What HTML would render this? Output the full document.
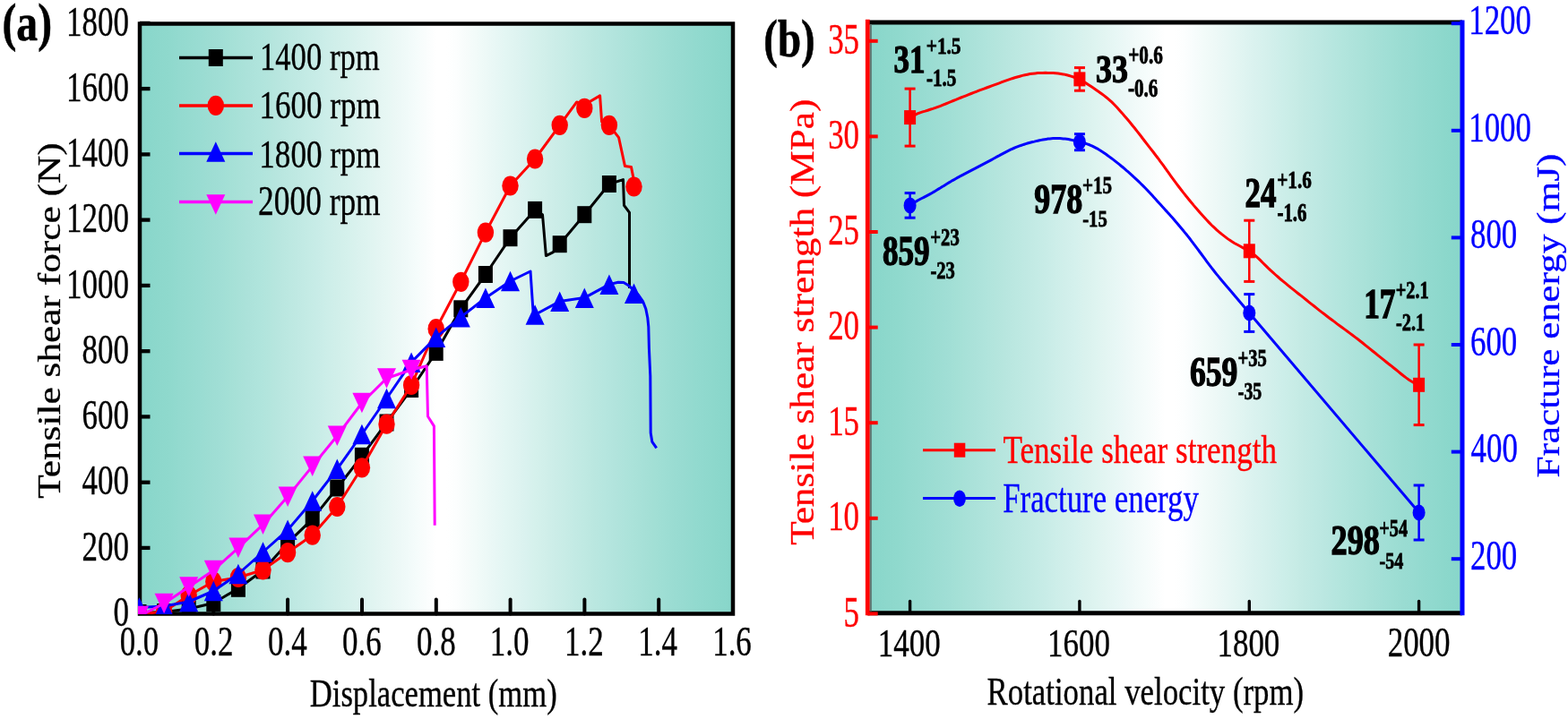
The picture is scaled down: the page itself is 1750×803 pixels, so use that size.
<!DOCTYPE html>
<html><head><meta charset="utf-8"><style>html,body{margin:0;padding:0;background:#fff;overflow:hidden}svg{display:block}</style></head><body>
<svg width="1750" height="803" viewBox="0 0 1750 803" font-family='"Liberation Serif", "Times New Roman", serif'>
<defs>
<linearGradient id="ga" gradientUnits="userSpaceOnUse" x1="156" x2="818" y1="0" y2="0"><stop offset="0.0000" stop-color="rgb(136, 214, 202)"/><stop offset="0.0167" stop-color="rgb(138, 215, 203)"/><stop offset="0.0333" stop-color="rgb(141, 216, 204)"/><stop offset="0.0500" stop-color="rgb(143, 217, 205)"/><stop offset="0.0667" stop-color="rgb(147, 218, 207)"/><stop offset="0.0833" stop-color="rgb(150, 219, 208)"/><stop offset="0.1000" stop-color="rgb(153, 220, 210)"/><stop offset="0.1167" stop-color="rgb(157, 221, 211)"/><stop offset="0.1333" stop-color="rgb(160, 222, 213)"/><stop offset="0.1500" stop-color="rgb(164, 224, 214)"/><stop offset="0.1667" stop-color="rgb(168, 225, 216)"/><stop offset="0.1833" stop-color="rgb(172, 226, 218)"/><stop offset="0.2000" stop-color="rgb(175, 228, 220)"/><stop offset="0.2167" stop-color="rgb(179, 229, 221)"/><stop offset="0.2333" stop-color="rgb(184, 230, 223)"/><stop offset="0.2500" stop-color="rgb(188, 232, 225)"/><stop offset="0.2667" stop-color="rgb(192, 233, 227)"/><stop offset="0.2833" stop-color="rgb(196, 235, 229)"/><stop offset="0.3000" stop-color="rgb(200, 236, 231)"/><stop offset="0.3167" stop-color="rgb(205, 238, 233)"/><stop offset="0.3333" stop-color="rgb(209, 239, 234)"/><stop offset="0.3500" stop-color="rgb(213, 241, 236)"/><stop offset="0.3667" stop-color="rgb(218, 242, 238)"/><stop offset="0.3833" stop-color="rgb(222, 244, 240)"/><stop offset="0.4000" stop-color="rgb(227, 245, 242)"/><stop offset="0.4167" stop-color="rgb(231, 247, 244)"/><stop offset="0.4333" stop-color="rgb(236, 248, 246)"/><stop offset="0.4500" stop-color="rgb(240, 250, 249)"/><stop offset="0.4667" stop-color="rgb(245, 252, 251)"/><stop offset="0.4833" stop-color="rgb(250, 253, 253)"/><stop offset="0.5000" stop-color="rgb(255, 255, 255)"/><stop offset="0.5167" stop-color="rgb(255, 255, 255)"/><stop offset="0.5333" stop-color="rgb(252, 254, 254)"/><stop offset="0.5500" stop-color="rgb(247, 252, 251)"/><stop offset="0.5667" stop-color="rgb(242, 251, 249)"/><stop offset="0.5833" stop-color="rgb(237, 249, 247)"/><stop offset="0.6000" stop-color="rgb(232, 247, 245)"/><stop offset="0.6167" stop-color="rgb(227, 246, 243)"/><stop offset="0.6333" stop-color="rgb(223, 244, 241)"/><stop offset="0.6500" stop-color="rgb(218, 242, 239)"/><stop offset="0.6667" stop-color="rgb(213, 241, 236)"/><stop offset="0.6833" stop-color="rgb(209, 239, 234)"/><stop offset="0.7000" stop-color="rgb(204, 237, 232)"/><stop offset="0.7167" stop-color="rgb(200, 236, 230)"/><stop offset="0.7333" stop-color="rgb(195, 234, 228)"/><stop offset="0.7500" stop-color="rgb(191, 233, 226)"/><stop offset="0.7667" stop-color="rgb(186, 231, 224)"/><stop offset="0.7833" stop-color="rgb(182, 230, 223)"/><stop offset="0.8000" stop-color="rgb(178, 228, 221)"/><stop offset="0.8167" stop-color="rgb(174, 227, 219)"/><stop offset="0.8333" stop-color="rgb(170, 226, 217)"/><stop offset="0.8500" stop-color="rgb(166, 224, 215)"/><stop offset="0.8667" stop-color="rgb(162, 223, 213)"/><stop offset="0.8833" stop-color="rgb(158, 222, 212)"/><stop offset="0.9000" stop-color="rgb(154, 220, 210)"/><stop offset="0.9167" stop-color="rgb(151, 219, 209)"/><stop offset="0.9333" stop-color="rgb(147, 218, 207)"/><stop offset="0.9500" stop-color="rgb(144, 217, 206)"/><stop offset="0.9667" stop-color="rgb(141, 216, 204)"/><stop offset="0.9833" stop-color="rgb(138, 215, 203)"/><stop offset="1.0000" stop-color="rgb(136, 214, 202)"/></linearGradient>
<clipPath id="clipa"><rect x="154" y="24" width="666.5" height="662"/></clipPath>
<linearGradient id="gb" gradientUnits="userSpaceOnUse" x1="968.3" x2="1632" y1="0" y2="0"><stop offset="0.0000" stop-color="rgb(136, 214, 202)"/><stop offset="0.0167" stop-color="rgb(138, 215, 203)"/><stop offset="0.0333" stop-color="rgb(141, 216, 204)"/><stop offset="0.0500" stop-color="rgb(143, 217, 205)"/><stop offset="0.0667" stop-color="rgb(147, 218, 207)"/><stop offset="0.0833" stop-color="rgb(150, 219, 208)"/><stop offset="0.1000" stop-color="rgb(153, 220, 210)"/><stop offset="0.1167" stop-color="rgb(157, 221, 211)"/><stop offset="0.1333" stop-color="rgb(160, 222, 213)"/><stop offset="0.1500" stop-color="rgb(164, 224, 214)"/><stop offset="0.1667" stop-color="rgb(168, 225, 216)"/><stop offset="0.1833" stop-color="rgb(172, 226, 218)"/><stop offset="0.2000" stop-color="rgb(176, 228, 220)"/><stop offset="0.2167" stop-color="rgb(180, 229, 221)"/><stop offset="0.2333" stop-color="rgb(184, 230, 223)"/><stop offset="0.2500" stop-color="rgb(188, 232, 225)"/><stop offset="0.2667" stop-color="rgb(192, 233, 227)"/><stop offset="0.2833" stop-color="rgb(196, 235, 229)"/><stop offset="0.3000" stop-color="rgb(200, 236, 231)"/><stop offset="0.3167" stop-color="rgb(205, 238, 233)"/><stop offset="0.3333" stop-color="rgb(209, 239, 235)"/><stop offset="0.3500" stop-color="rgb(213, 241, 237)"/><stop offset="0.3667" stop-color="rgb(218, 242, 238)"/><stop offset="0.3833" stop-color="rgb(222, 244, 240)"/><stop offset="0.4000" stop-color="rgb(227, 245, 242)"/><stop offset="0.4167" stop-color="rgb(231, 247, 245)"/><stop offset="0.4333" stop-color="rgb(236, 248, 247)"/><stop offset="0.4500" stop-color="rgb(241, 250, 249)"/><stop offset="0.4667" stop-color="rgb(245, 252, 251)"/><stop offset="0.4833" stop-color="rgb(250, 253, 253)"/><stop offset="0.5000" stop-color="rgb(255, 255, 255)"/><stop offset="0.5167" stop-color="rgb(255, 255, 255)"/><stop offset="0.5333" stop-color="rgb(252, 254, 254)"/><stop offset="0.5500" stop-color="rgb(247, 252, 252)"/><stop offset="0.5667" stop-color="rgb(242, 251, 249)"/><stop offset="0.5833" stop-color="rgb(238, 249, 247)"/><stop offset="0.6000" stop-color="rgb(233, 247, 245)"/><stop offset="0.6167" stop-color="rgb(228, 246, 243)"/><stop offset="0.6333" stop-color="rgb(223, 244, 241)"/><stop offset="0.6500" stop-color="rgb(218, 242, 239)"/><stop offset="0.6667" stop-color="rgb(214, 241, 237)"/><stop offset="0.6833" stop-color="rgb(209, 239, 235)"/><stop offset="0.7000" stop-color="rgb(204, 238, 233)"/><stop offset="0.7167" stop-color="rgb(200, 236, 230)"/><stop offset="0.7333" stop-color="rgb(195, 234, 228)"/><stop offset="0.7500" stop-color="rgb(191, 233, 227)"/><stop offset="0.7667" stop-color="rgb(187, 231, 225)"/><stop offset="0.7833" stop-color="rgb(182, 230, 223)"/><stop offset="0.8000" stop-color="rgb(178, 229, 221)"/><stop offset="0.8167" stop-color="rgb(174, 227, 219)"/><stop offset="0.8333" stop-color="rgb(170, 226, 217)"/><stop offset="0.8500" stop-color="rgb(166, 224, 215)"/><stop offset="0.8667" stop-color="rgb(162, 223, 214)"/><stop offset="0.8833" stop-color="rgb(158, 222, 212)"/><stop offset="0.9000" stop-color="rgb(154, 220, 210)"/><stop offset="0.9167" stop-color="rgb(151, 219, 209)"/><stop offset="0.9333" stop-color="rgb(147, 218, 207)"/><stop offset="0.9500" stop-color="rgb(144, 217, 206)"/><stop offset="0.9667" stop-color="rgb(141, 216, 204)"/><stop offset="0.9833" stop-color="rgb(138, 215, 203)"/><stop offset="1.0000" stop-color="rgb(136, 214, 202)"/></linearGradient>
</defs>
<rect x="0" y="0" width="1750" height="803" fill="#fff"/>
<rect x="156" y="26.5" width="662" height="659.0" fill="url(#ga)"/>
<rect x="968.3" y="24.9" width="663.7" height="659.9" fill="url(#gb)"/>
<rect x="156" y="26.5" width="662" height="659" fill="none" stroke="#000" stroke-width="4.5"/>
<line x1="156" y1="611.9" x2="167.5" y2="611.9" stroke="#000" stroke-width="4.3"/>
<line x1="156" y1="538.7" x2="167.5" y2="538.7" stroke="#000" stroke-width="4.3"/>
<line x1="156" y1="465.4" x2="167.5" y2="465.4" stroke="#000" stroke-width="4.3"/>
<line x1="156" y1="392.2" x2="167.5" y2="392.2" stroke="#000" stroke-width="4.3"/>
<line x1="156" y1="318.9" x2="167.5" y2="318.9" stroke="#000" stroke-width="4.3"/>
<line x1="156" y1="245.6" x2="167.5" y2="245.6" stroke="#000" stroke-width="4.3"/>
<line x1="156" y1="172.4" x2="167.5" y2="172.4" stroke="#000" stroke-width="4.3"/>
<line x1="156" y1="99.1" x2="167.5" y2="99.1" stroke="#000" stroke-width="4.3"/>
<line x1="156" y1="25.9" x2="167.5" y2="25.9" stroke="#000" stroke-width="4.3"/>
<line x1="238.3" y1="685.5" x2="238.3" y2="669.5" stroke="#000" stroke-width="4" stroke-linecap="round"/>
<line x1="321.1" y1="685.5" x2="321.1" y2="669.5" stroke="#000" stroke-width="4" stroke-linecap="round"/>
<line x1="404.0" y1="685.5" x2="404.0" y2="669.5" stroke="#000" stroke-width="4" stroke-linecap="round"/>
<line x1="486.8" y1="685.5" x2="486.8" y2="669.5" stroke="#000" stroke-width="4" stroke-linecap="round"/>
<line x1="569.6" y1="685.5" x2="569.6" y2="669.5" stroke="#000" stroke-width="4" stroke-linecap="round"/>
<line x1="652.4" y1="685.5" x2="652.4" y2="669.5" stroke="#000" stroke-width="4" stroke-linecap="round"/>
<line x1="735.2" y1="685.5" x2="735.2" y2="669.5" stroke="#000" stroke-width="4" stroke-linecap="round"/>
<g clip-path="url(#clipa)">
<path d="M155.5,684.5 L183.1,683.5 L210.7,680.0 L238.3,673.5 L265.9,657.3 L293.5,637.0 L321.1,606.4 L348.7,579.6 L376.3,545.0 L403.9,509.3 L431.5,472.0 L459.1,434.5 L486.7,393.4 L514.3,344.8 L541.9,306.5 L569.5,265.7 L597.1,234.4 L605.5,239.8 L609.4,285.6 L617.4,281.6 L624.7,272.7 L652.3,239.7 L679.9,205.5 L695.5,200.6 L696.5,229.4 L702.5,237.4 L702.5,322.0" fill="none" stroke="#000" stroke-width="3" stroke-linejoin="round"/>
<rect x="147.5" y="675.0" width="16" height="19" fill="#000"/>
<rect x="175.1" y="674.0" width="16" height="19" fill="#000"/>
<rect x="202.7" y="670.5" width="16" height="19" fill="#000"/>
<rect x="230.3" y="664.0" width="16" height="19" fill="#000"/>
<rect x="257.9" y="647.8" width="16" height="19" fill="#000"/>
<rect x="285.5" y="627.5" width="16" height="19" fill="#000"/>
<rect x="313.1" y="596.9" width="16" height="19" fill="#000"/>
<rect x="340.7" y="570.1" width="16" height="19" fill="#000"/>
<rect x="368.3" y="535.5" width="16" height="19" fill="#000"/>
<rect x="395.9" y="499.8" width="16" height="19" fill="#000"/>
<rect x="423.5" y="462.5" width="16" height="19" fill="#000"/>
<rect x="451.1" y="425.0" width="16" height="19" fill="#000"/>
<rect x="478.7" y="383.9" width="16" height="19" fill="#000"/>
<rect x="506.3" y="335.3" width="16" height="19" fill="#000"/>
<rect x="533.9" y="297.0" width="16" height="19" fill="#000"/>
<rect x="561.5" y="256.2" width="16" height="19" fill="#000"/>
<rect x="589.1" y="224.9" width="16" height="19" fill="#000"/>
<rect x="616.7" y="263.2" width="16" height="19" fill="#000"/>
<rect x="644.3" y="230.2" width="16" height="19" fill="#000"/>
<rect x="671.9" y="196.0" width="16" height="19" fill="#000"/>
<path d="M155.5,686.0 L183.1,683.0 L210.7,665.0 L238.3,649.5 L265.9,645.0 L293.5,636.5 L321.1,617.1 L348.7,597.7 L376.3,566.0 L403.9,522.3 L431.5,473.7 L459.1,430.0 L486.7,367.2 L514.3,314.8 L541.9,259.7 L569.5,207.5 L597.1,177.5 L624.7,139.8 L643.7,113.9 L652.3,117.0 L669.6,106.9 L671.6,135.8 L679.9,139.8 L690.6,153.7 L697.5,185.6 L704.5,186.6 L707.5,201.6 L707.5,208.5" fill="none" stroke="#ff0000" stroke-width="3" stroke-linejoin="round"/>
<ellipse cx="155.5" cy="686.0" rx="9.2" ry="11.1" fill="#ff0000"/>
<ellipse cx="183.1" cy="683.0" rx="9.2" ry="11.1" fill="#ff0000"/>
<ellipse cx="210.7" cy="665.0" rx="9.2" ry="11.1" fill="#ff0000"/>
<ellipse cx="238.3" cy="649.5" rx="9.2" ry="11.1" fill="#ff0000"/>
<ellipse cx="265.9" cy="645.0" rx="9.2" ry="11.1" fill="#ff0000"/>
<ellipse cx="293.5" cy="636.5" rx="9.2" ry="11.1" fill="#ff0000"/>
<ellipse cx="321.1" cy="617.1" rx="9.2" ry="11.1" fill="#ff0000"/>
<ellipse cx="348.7" cy="597.7" rx="9.2" ry="11.1" fill="#ff0000"/>
<ellipse cx="376.3" cy="566.0" rx="9.2" ry="11.1" fill="#ff0000"/>
<ellipse cx="403.9" cy="522.3" rx="9.2" ry="11.1" fill="#ff0000"/>
<ellipse cx="431.5" cy="473.7" rx="9.2" ry="11.1" fill="#ff0000"/>
<ellipse cx="459.1" cy="430.0" rx="9.2" ry="11.1" fill="#ff0000"/>
<ellipse cx="486.7" cy="367.2" rx="9.2" ry="11.1" fill="#ff0000"/>
<ellipse cx="514.3" cy="314.8" rx="9.2" ry="11.1" fill="#ff0000"/>
<ellipse cx="541.9" cy="259.7" rx="9.2" ry="11.1" fill="#ff0000"/>
<ellipse cx="569.5" cy="207.5" rx="9.2" ry="11.1" fill="#ff0000"/>
<ellipse cx="597.1" cy="177.5" rx="9.2" ry="11.1" fill="#ff0000"/>
<ellipse cx="624.7" cy="139.8" rx="9.2" ry="11.1" fill="#ff0000"/>
<ellipse cx="652.3" cy="120.9" rx="9.2" ry="11.1" fill="#ff0000"/>
<ellipse cx="679.9" cy="139.8" rx="9.2" ry="11.1" fill="#ff0000"/>
<ellipse cx="707.5" cy="208.5" rx="9.2" ry="11.1" fill="#ff0000"/>
<path d="M155.5,678.5 L183.1,677.0 L210.7,672.0 L238.3,660.0 L265.9,641.0 L293.5,616.5 L321.1,591.9 L348.7,559.5 L376.3,523.9 L403.9,485.0 L431.5,445.0 L459.1,404.6 L486.7,376.6 L514.3,354.2 L541.9,332.7 L569.5,314.0 L592.0,303.0 L595.0,347.5 L597.1,351.5 L624.7,336.6 L652.3,332.6 L679.9,317.6 L690.0,315.2 L696.0,315.5 L701.0,318.5 L707.5,324.0 L713.0,330.0 L717.5,336.5 L720.8,345.0 L722.8,355.0 L723.8,365.0 L724.4,389.0 L725.8,420.0 L726.2,483.4 L727.8,493.3 L732.7,500.3" fill="none" stroke="#0000ff" stroke-width="3" stroke-linejoin="round"/>
<path d="M145.0,689.8 L166.0,689.8 L155.5,667.2Z" fill="#0000ff"/>
<path d="M172.6,688.2 L193.6,688.2 L183.1,665.8Z" fill="#0000ff"/>
<path d="M200.2,683.2 L221.2,683.2 L210.7,660.8Z" fill="#0000ff"/>
<path d="M227.8,671.2 L248.8,671.2 L238.3,648.8Z" fill="#0000ff"/>
<path d="M255.4,652.2 L276.4,652.2 L265.9,629.8Z" fill="#0000ff"/>
<path d="M283.0,627.8 L304.0,627.8 L293.5,605.2Z" fill="#0000ff"/>
<path d="M310.6,603.1 L331.6,603.1 L321.1,580.6Z" fill="#0000ff"/>
<path d="M338.2,570.8 L359.2,570.8 L348.7,548.2Z" fill="#0000ff"/>
<path d="M365.8,535.1 L386.8,535.1 L376.3,512.6Z" fill="#0000ff"/>
<path d="M393.4,496.2 L414.4,496.2 L403.9,473.8Z" fill="#0000ff"/>
<path d="M421.0,456.2 L442.0,456.2 L431.5,433.8Z" fill="#0000ff"/>
<path d="M448.6,415.9 L469.6,415.9 L459.1,393.4Z" fill="#0000ff"/>
<path d="M476.2,387.9 L497.2,387.9 L486.7,365.4Z" fill="#0000ff"/>
<path d="M503.8,365.4 L524.8,365.4 L514.3,342.9Z" fill="#0000ff"/>
<path d="M531.4,343.9 L552.4,343.9 L541.9,321.4Z" fill="#0000ff"/>
<path d="M559.0,325.2 L580.0,325.2 L569.5,302.8Z" fill="#0000ff"/>
<path d="M586.6,362.8 L607.6,362.8 L597.1,340.2Z" fill="#0000ff"/>
<path d="M614.2,347.9 L635.2,347.9 L624.7,325.4Z" fill="#0000ff"/>
<path d="M641.8,343.9 L662.8,343.9 L652.3,321.4Z" fill="#0000ff"/>
<path d="M669.4,328.9 L690.4,328.9 L679.9,306.4Z" fill="#0000ff"/>
<path d="M697.0,338.9 L718.0,338.9 L707.5,316.4Z" fill="#0000ff"/>
<path d="M155.5,688.0 L183.1,674.0 L210.7,655.5 L238.3,637.0 L265.9,611.8 L293.5,585.9 L321.1,554.6 L348.7,520.6 L376.3,486.7 L403.9,450.0 L431.5,422.5 L459.1,413.0 L476.2,408.8 L477.5,465.0 L484.4,475.9 L485.2,586.8" fill="none" stroke="#ff00ff" stroke-width="3" stroke-linejoin="round"/>
<path d="M145.0,676.8 L166.0,676.8 L155.5,699.2Z" fill="#ff00ff"/>
<path d="M172.6,662.8 L193.6,662.8 L183.1,685.2Z" fill="#ff00ff"/>
<path d="M200.2,644.2 L221.2,644.2 L210.7,666.8Z" fill="#ff00ff"/>
<path d="M227.8,625.8 L248.8,625.8 L238.3,648.2Z" fill="#ff00ff"/>
<path d="M255.4,600.5 L276.4,600.5 L265.9,623.0Z" fill="#ff00ff"/>
<path d="M283.0,574.6 L304.0,574.6 L293.5,597.1Z" fill="#ff00ff"/>
<path d="M310.6,543.4 L331.6,543.4 L321.1,565.9Z" fill="#ff00ff"/>
<path d="M338.2,509.4 L359.2,509.4 L348.7,531.9Z" fill="#ff00ff"/>
<path d="M365.8,475.4 L386.8,475.4 L376.3,497.9Z" fill="#ff00ff"/>
<path d="M393.4,438.8 L414.4,438.8 L403.9,461.2Z" fill="#ff00ff"/>
<path d="M421.0,411.2 L442.0,411.2 L431.5,433.8Z" fill="#ff00ff"/>
<path d="M448.6,401.8 L469.6,401.8 L459.1,424.2Z" fill="#ff00ff"/>
</g>
<line x1="200" y1="64.5" x2="282" y2="64.5" stroke="#000" stroke-width="3.5"/>
<rect x="232.8" y="55.0" width="16" height="19" fill="#000"/>
<line x1="200" y1="117.9" x2="282" y2="117.9" stroke="#ff0000" stroke-width="3.5"/>
<ellipse cx="240.8" cy="117.9" rx="9.2" ry="11.1" fill="#ff0000"/>
<line x1="200" y1="171.5" x2="282" y2="171.5" stroke="#0000ff" stroke-width="3.5"/>
<path d="M230.3,180.8 L251.3,180.8 L240.8,158.2Z" fill="#0000ff"/>
<line x1="200" y1="225.5" x2="282" y2="225.5" stroke="#ff00ff" stroke-width="3.5"/>
<path d="M230.3,217.2 L251.3,217.2 L240.8,239.8Z" fill="#ff00ff"/>
<path d="M1015.4,131.6 L1018.3,129.9 L1021.1,128.3 L1024.0,126.9 L1026.8,125.8 L1029.7,124.9 L1032.5,124.1 L1035.4,123.2 L1038.2,122.3 L1041.1,121.4 L1044.0,120.4 L1046.8,119.3 L1049.7,118.3 L1052.5,117.1 L1055.4,116.0 L1058.2,114.8 L1061.1,113.7 L1063.9,112.5 L1066.8,111.4 L1069.7,110.2 L1072.5,109.0 L1075.4,107.9 L1078.2,106.8 L1081.1,105.6 L1083.9,104.5 L1086.8,103.4 L1089.6,102.3 L1092.5,101.2 L1095.3,100.2 L1098.2,99.1 L1101.1,98.0 L1103.9,97.0 L1106.8,95.9 L1109.6,94.9 L1112.5,93.8 L1115.3,92.8 L1118.2,91.7 L1121.0,90.7 L1123.9,89.7 L1126.8,88.7 L1129.6,87.7 L1132.5,86.8 L1135.3,86.0 L1138.2,85.2 L1141.0,84.4 L1143.9,83.8 L1146.7,83.2 L1149.6,82.6 L1152.5,82.2 L1155.3,81.9 L1158.2,81.6 L1161.0,81.4 L1163.9,81.4 L1166.7,81.3 L1169.6,81.4 L1172.4,81.5 L1175.3,81.6 L1178.2,81.8 L1181.0,82.1 L1183.9,82.5 L1186.7,82.9 L1189.6,83.5 L1192.4,84.2 L1195.3,85.1 L1198.1,86.0 L1201.0,87.1 L1203.8,88.4 L1206.7,89.8 L1209.6,91.4 L1212.4,93.1 L1215.3,94.9 L1218.1,96.8 L1221.0,98.7 L1223.8,100.7 L1226.7,102.7 L1229.5,104.8 L1232.4,106.9 L1235.3,109.2 L1238.1,111.6 L1241.0,114.2 L1243.8,117.0 L1246.7,120.0 L1249.5,123.2 L1252.4,126.4 L1255.2,129.8 L1258.1,133.1 L1261.0,136.5 L1263.8,140.0 L1266.7,143.5 L1269.5,147.1 L1272.4,150.8 L1275.2,154.5 L1278.1,158.2 L1280.9,161.9 L1283.8,165.6 L1286.7,169.3 L1289.5,173.0 L1292.4,176.7 L1295.2,180.6 L1298.1,184.4 L1300.9,188.4 L1303.8,192.4 L1306.6,196.4 L1309.5,200.3 L1312.3,204.2 L1315.2,208.0 L1318.1,211.7 L1320.9,215.4 L1323.8,219.0 L1326.6,222.5 L1329.5,226.0 L1332.3,229.4 L1335.2,232.7 L1338.0,236.0 L1340.9,239.3 L1343.8,242.5 L1346.6,245.6 L1349.5,248.6 L1352.3,251.5 L1355.2,254.2 L1358.0,256.8 L1360.9,259.3 L1363.7,261.7 L1366.6,263.9 L1369.5,266.1 L1372.3,268.1 L1375.2,269.9 L1378.0,271.7 L1380.9,273.3 L1383.7,274.8 L1386.6,276.3 L1389.4,277.8 L1392.3,279.2 L1395.2,280.9 L1398.0,282.9 L1400.9,285.3 L1403.7,287.9 L1406.6,290.7 L1409.4,293.5 L1412.3,296.3 L1415.1,299.1 L1418.0,301.8 L1420.8,304.4 L1423.7,307.0 L1426.6,309.5 L1429.4,312.0 L1432.3,314.4 L1435.1,316.7 L1438.0,319.1 L1440.8,321.4 L1443.7,323.6 L1446.5,325.9 L1449.4,328.2 L1452.3,330.4 L1455.1,332.7 L1458.0,335.0 L1460.8,337.3 L1463.7,339.6 L1466.5,341.8 L1469.4,344.1 L1472.2,346.4 L1475.1,348.6 L1478.0,350.8 L1480.8,353.0 L1483.7,355.2 L1486.5,357.3 L1489.4,359.4 L1492.2,361.6 L1495.1,363.7 L1497.9,365.8 L1500.8,367.9 L1503.7,370.0 L1506.5,372.1 L1509.4,374.2 L1512.2,376.4 L1515.1,378.5 L1517.9,380.7 L1520.8,383.0 L1523.6,385.3 L1526.5,387.6 L1529.3,389.9 L1532.2,392.2 L1535.1,394.5 L1537.9,396.8 L1540.8,399.1 L1543.6,401.4 L1546.5,403.7 L1549.3,406.0 L1552.2,408.2 L1555.0,410.5 L1557.9,412.8 L1560.8,415.2 L1563.6,417.5 L1566.5,419.8 L1569.3,421.9 L1572.2,423.9 L1575.0,425.7 L1577.9,427.3 L1580.7,428.6 L1583.6,429.8" fill="none" stroke="#ff0000" stroke-width="3"/>
<path d="M1015.4,229.5 L1017.3,228.2 L1019.2,226.9 L1021.1,225.7 L1023.0,224.6 L1024.9,223.5 L1026.8,222.5 L1028.7,221.5 L1030.6,220.6 L1032.5,219.6 L1034.4,218.6 L1036.3,217.6 L1038.2,216.6 L1040.2,215.5 L1042.1,214.4 L1044.0,213.3 L1045.9,212.1 L1047.8,210.9 L1049.7,209.8 L1051.6,208.6 L1053.5,207.4 L1055.4,206.2 L1057.3,205.0 L1059.2,203.9 L1061.1,202.8 L1063.0,201.6 L1064.9,200.6 L1066.8,199.5 L1068.7,198.4 L1070.6,197.4 L1072.5,196.3 L1074.4,195.3 L1076.3,194.3 L1078.2,193.3 L1080.1,192.3 L1082.0,191.3 L1083.9,190.3 L1085.8,189.3 L1087.8,188.3 L1089.7,187.3 L1091.6,186.3 L1093.5,185.3 L1095.4,184.3 L1097.3,183.3 L1099.2,182.3 L1101.1,181.3 L1103.0,180.3 L1104.9,179.3 L1106.8,178.3 L1108.7,177.3 L1110.6,176.2 L1112.5,175.2 L1114.4,174.2 L1116.3,173.1 L1118.2,172.1 L1120.1,171.1 L1122.0,170.1 L1123.9,169.1 L1125.8,168.2 L1127.7,167.2 L1129.6,166.3 L1131.5,165.5 L1133.4,164.7 L1135.4,163.9 L1137.3,163.1 L1139.2,162.5 L1141.1,161.8 L1143.0,161.2 L1144.9,160.6 L1146.8,160.0 L1148.7,159.5 L1150.6,159.0 L1152.5,158.5 L1154.4,158.1 L1156.3,157.6 L1158.2,157.2 L1160.1,156.8 L1162.0,156.4 L1163.9,156.0 L1165.8,155.7 L1167.7,155.4 L1169.6,155.1 L1171.5,154.9 L1173.4,154.7 L1175.3,154.6 L1177.2,154.5 L1179.1,154.5 L1181.0,154.5 L1183.0,154.6 L1184.9,154.7 L1186.8,154.9 L1188.7,155.1 L1190.6,155.3 L1192.5,155.6 L1194.4,156.0 L1196.3,156.4 L1198.2,156.9 L1200.1,157.4 L1202.0,157.9 L1203.9,158.4 L1205.8,158.9 L1207.7,159.3 L1209.6,159.7 L1211.5,160.2 L1213.4,160.8 L1215.3,161.5 L1217.2,162.3 L1219.1,163.1 L1221.0,164.1 L1222.9,165.1 L1224.8,166.1 L1226.7,167.3 L1228.7,168.5 L1230.6,169.7 L1232.5,171.0 L1234.4,172.3 L1236.3,173.7 L1238.2,175.1 L1240.1,176.5 L1242.0,177.9 L1243.9,179.4 L1245.8,180.9 L1247.7,182.4 L1249.6,183.9 L1251.5,185.5 L1253.4,187.0 L1255.3,188.6 L1257.2,190.3 L1259.1,191.9 L1261.0,193.6 L1262.9,195.3 L1264.8,197.1 L1266.7,198.8 L1268.6,200.6 L1270.5,202.4 L1272.4,204.3 L1274.3,206.2 L1276.3,208.1 L1278.2,210.0 L1280.1,212.0 L1282.0,214.0 L1283.9,216.0 L1285.8,218.1 L1287.7,220.2 L1289.6,222.3 L1291.5,224.4 L1293.4,226.5 L1295.3,228.6 L1297.2,230.7 L1299.1,232.8 L1301.0,234.9 L1302.9,236.9 L1304.8,239.1 L1306.7,241.2 L1308.6,243.3 L1310.5,245.5 L1312.4,247.7 L1314.3,249.9 L1316.2,252.2 L1318.1,254.5 L1320.0,256.8 L1321.9,259.1 L1323.9,261.5 L1325.8,263.9 L1327.7,266.3 L1329.6,268.8 L1331.5,271.3 L1333.4,273.8 L1335.3,276.3 L1337.2,278.9 L1339.1,281.5 L1341.0,284.0 L1342.9,286.6 L1344.8,289.2 L1346.7,291.8 L1348.6,294.4 L1350.5,296.9 L1352.4,299.4 L1354.3,301.8 L1356.2,304.2 L1358.1,306.6 L1360.0,308.9 L1361.9,311.2 L1363.8,313.5 L1365.7,315.8 L1367.6,318.0 L1369.5,320.3 L1371.5,322.5 L1373.4,324.7 L1375.3,327.0 L1377.2,329.2 L1379.1,331.5 L1381.0,333.7 L1382.9,336.0 L1384.8,338.2 L1386.7,340.5 L1388.6,342.7 L1390.5,345.0 L1392.4,347.2 L1394.3,349.5 L1583.8,572.5" fill="none" stroke="#0000ff" stroke-width="3"/>
<line x1="1015.6" y1="99.1" x2="1015.6" y2="163.1" stroke="#ff0000" stroke-width="2.5"/><line x1="1009.6" y1="99.1" x2="1021.6" y2="99.1" stroke="#ff0000" stroke-width="3"/><line x1="1009.6" y1="163.1" x2="1021.6" y2="163.1" stroke="#ff0000" stroke-width="3"/>
<rect x="1009.1" y="123.1" width="13" height="16" fill="#ff0000"/>
<line x1="1204.94" y1="75.6" x2="1204.94" y2="101.2" stroke="#ff0000" stroke-width="2.5"/><line x1="1198.94" y1="75.6" x2="1210.94" y2="75.6" stroke="#ff0000" stroke-width="3"/><line x1="1198.94" y1="101.2" x2="1210.94" y2="101.2" stroke="#ff0000" stroke-width="3"/>
<rect x="1198.4" y="80.4" width="13" height="16" fill="#ff0000"/>
<line x1="1394.28" y1="246.2" x2="1394.28" y2="314.4" stroke="#ff0000" stroke-width="2.5"/><line x1="1388.28" y1="246.2" x2="1400.28" y2="246.2" stroke="#ff0000" stroke-width="3"/><line x1="1388.28" y1="314.4" x2="1400.28" y2="314.4" stroke="#ff0000" stroke-width="3"/>
<rect x="1387.8" y="272.3" width="13" height="16" fill="#ff0000"/>
<line x1="1583.62" y1="385.0" x2="1583.62" y2="474.6" stroke="#ff0000" stroke-width="2.5"/><line x1="1577.62" y1="385.0" x2="1589.62" y2="385.0" stroke="#ff0000" stroke-width="3"/><line x1="1577.62" y1="474.6" x2="1589.62" y2="474.6" stroke="#ff0000" stroke-width="3"/>
<rect x="1577.1" y="421.8" width="13" height="16" fill="#ff0000"/>
<line x1="1015.6" y1="215.6" x2="1015.6" y2="243.2" stroke="#0000ff" stroke-width="2.5"/><line x1="1009.6" y1="215.6" x2="1021.6" y2="215.6" stroke="#0000ff" stroke-width="3"/><line x1="1009.6" y1="243.2" x2="1021.6" y2="243.2" stroke="#0000ff" stroke-width="3"/>
<ellipse cx="1015.6" cy="229.4" rx="7" ry="9" fill="#0000ff"/>
<line x1="1204.94" y1="149.7" x2="1204.94" y2="167.7" stroke="#0000ff" stroke-width="2.5"/><line x1="1198.94" y1="149.7" x2="1210.94" y2="149.7" stroke="#0000ff" stroke-width="3"/><line x1="1198.94" y1="167.7" x2="1210.94" y2="167.7" stroke="#0000ff" stroke-width="3"/>
<ellipse cx="1204.9" cy="158.7" rx="7" ry="9" fill="#0000ff"/>
<line x1="1394.28" y1="328.6" x2="1394.28" y2="370.4" stroke="#0000ff" stroke-width="2.5"/><line x1="1388.28" y1="328.6" x2="1400.28" y2="328.6" stroke="#0000ff" stroke-width="3"/><line x1="1388.28" y1="370.4" x2="1400.28" y2="370.4" stroke="#0000ff" stroke-width="3"/>
<ellipse cx="1394.3" cy="349.5" rx="7" ry="9" fill="#0000ff"/>
<line x1="1583.62" y1="542.0" x2="1583.62" y2="603.0" stroke="#0000ff" stroke-width="2.5"/><line x1="1577.62" y1="542.0" x2="1589.62" y2="542.0" stroke="#0000ff" stroke-width="3"/><line x1="1577.62" y1="603.0" x2="1589.62" y2="603.0" stroke="#0000ff" stroke-width="3"/>
<ellipse cx="1583.6" cy="572.5" rx="7" ry="9" fill="#0000ff"/>
<line x1="1030" y1="502.7" x2="1111" y2="502.7" stroke="#ff0000" stroke-width="3"/>
<rect x="1064.8" y="494.7" width="12.5" height="16" fill="#ff0000"/>
<line x1="1030" y1="556.5" x2="1111" y2="556.5" stroke="#0000ff" stroke-width="3"/>
<ellipse cx="1071.0" cy="556.8" rx="6.9" ry="9.2" fill="#0000ff"/>
<line x1="968.3" y1="24.9" x2="1632" y2="24.9" stroke="#000" stroke-width="5"/>
<line x1="968.3" y1="684.8" x2="1632" y2="684.8" stroke="#000" stroke-width="5"/>
<line x1="1015.6" y1="684.8" x2="1015.6" y2="671.5" stroke="#000" stroke-width="3.4" stroke-linecap="round"/>
<line x1="1204.9" y1="684.8" x2="1204.9" y2="671.5" stroke="#000" stroke-width="3.4" stroke-linecap="round"/>
<line x1="1394.3" y1="684.8" x2="1394.3" y2="671.5" stroke="#000" stroke-width="3.4" stroke-linecap="round"/>
<line x1="1583.6" y1="684.8" x2="1583.6" y2="671.5" stroke="#000" stroke-width="3.4" stroke-linecap="round"/>
<line x1="971.9" y1="27" x2="971.9" y2="682.5" stroke="rgb(95,120,115)" stroke-width="2"/>
<line x1="968.3" y1="21.8" x2="968.3" y2="687.3" stroke="#ff0000" stroke-width="4.8"/>
<line x1="968.3" y1="685.4" x2="979.7" y2="685.4" stroke="#ff0000" stroke-width="4"/>
<line x1="968.3" y1="578.8" x2="979.7" y2="578.8" stroke="#ff0000" stroke-width="4"/>
<line x1="968.3" y1="472.2" x2="979.7" y2="472.2" stroke="#ff0000" stroke-width="4"/>
<line x1="968.3" y1="365.6" x2="979.7" y2="365.6" stroke="#ff0000" stroke-width="4"/>
<line x1="968.3" y1="259.0" x2="979.7" y2="259.0" stroke="#ff0000" stroke-width="4"/>
<line x1="968.3" y1="152.4" x2="979.7" y2="152.4" stroke="#ff0000" stroke-width="4"/>
<line x1="968.3" y1="45.8" x2="979.7" y2="45.8" stroke="#ff0000" stroke-width="4"/>
<line x1="1632" y1="22.4" x2="1632" y2="687.3" stroke="#0000ff" stroke-width="5"/>
<line x1="1619.8" y1="624.2" x2="1632" y2="624.2" stroke="#0000ff" stroke-width="4"/>
<line x1="1619.8" y1="504.6" x2="1632" y2="504.6" stroke="#0000ff" stroke-width="4"/>
<line x1="1619.8" y1="385.0" x2="1632" y2="385.0" stroke="#0000ff" stroke-width="4"/>
<line x1="1619.8" y1="265.4" x2="1632" y2="265.4" stroke="#0000ff" stroke-width="4"/>
<line x1="1619.8" y1="145.8" x2="1632" y2="145.8" stroke="#0000ff" stroke-width="4"/>
<line x1="1619.8" y1="26.2" x2="1632" y2="26.2" stroke="#0000ff" stroke-width="4"/>
<text transform="translate(2.50,45.19) scale(0.47593,0.59556)" font-size="100" font-weight="bold" fill="#000" stroke="#000" stroke-width="1.0">(a)</text>
<text transform="translate(126.51,698.96) scale(0.34973,0.47164)" font-size="100" fill="#000" stroke="#000" stroke-width="0.8">0</text>
<text transform="translate(91.54,625.70) scale(0.34973,0.47164)" font-size="100" fill="#000" stroke="#000" stroke-width="0.8">200</text>
<text transform="translate(91.54,552.44) scale(0.34973,0.47164)" font-size="100" fill="#000" stroke="#000" stroke-width="0.8">400</text>
<text transform="translate(91.54,479.18) scale(0.34973,0.47164)" font-size="100" fill="#000" stroke="#000" stroke-width="0.8">600</text>
<text transform="translate(91.54,405.92) scale(0.34973,0.47164)" font-size="100" fill="#000" stroke="#000" stroke-width="0.8">800</text>
<text transform="translate(74.05,332.67) scale(0.34973,0.46471)" font-size="100" fill="#000" stroke="#000" stroke-width="0.8">1000</text>
<text transform="translate(74.05,259.41) scale(0.34973,0.46471)" font-size="100" fill="#000" stroke="#000" stroke-width="0.8">1200</text>
<text transform="translate(74.05,186.15) scale(0.34973,0.46471)" font-size="100" fill="#000" stroke="#000" stroke-width="0.8">1400</text>
<text transform="translate(74.05,112.89) scale(0.34973,0.46471)" font-size="100" fill="#000" stroke="#000" stroke-width="0.8">1600</text>
<text transform="translate(74.05,39.63) scale(0.34973,0.46471)" font-size="100" fill="#000" stroke="#000" stroke-width="0.8">1800</text>
<text transform="translate(133.64,731.87) scale(0.34973,0.46269)" font-size="100" fill="#000" stroke="#000" stroke-width="0.8">0.0</text>
<text transform="translate(216.81,731.87) scale(0.34973,0.46269)" font-size="100" fill="#000" stroke="#000" stroke-width="0.8">0.2</text>
<text transform="translate(298.93,731.87) scale(0.34973,0.46269)" font-size="100" fill="#000" stroke="#000" stroke-width="0.8">0.4</text>
<text transform="translate(381.93,731.87) scale(0.34973,0.46269)" font-size="100" fill="#000" stroke="#000" stroke-width="0.8">0.6</text>
<text transform="translate(464.92,731.87) scale(0.34973,0.46269)" font-size="100" fill="#000" stroke="#000" stroke-width="0.8">0.8</text>
<text transform="translate(546.87,731.89) scale(0.34973,0.45588)" font-size="100" fill="#000" stroke="#000" stroke-width="0.8">1.0</text>
<text transform="translate(630.04,732.34) scale(0.34973,0.46269)" font-size="100" fill="#000" stroke="#000" stroke-width="0.8">1.2</text>
<text transform="translate(712.16,732.34) scale(0.34973,0.46269)" font-size="100" fill="#000" stroke="#000" stroke-width="0.8">1.4</text>
<text transform="translate(795.15,731.89) scale(0.34973,0.45588)" font-size="100" fill="#000" stroke="#000" stroke-width="0.8">1.6</text>
<text transform="translate(345.76,788.98) scale(0.34646,0.45333)" font-size="100" fill="#000" stroke="#000" stroke-width="0.8">Displacement (mm)</text>
<text transform="translate(66.51,556.67) rotate(-90) scale(0.43304,0.35652)" font-size="100" fill="#000" stroke="#000" stroke-width="0.8">Tensile shear force (N)</text>
<text transform="translate(289.98,78.49) scale(0.34640,0.45287)" font-size="100" fill="#000" stroke="#000" stroke-width="0.8">1400 rpm</text>
<text transform="translate(289.55,132.44) scale(0.34987,0.45057)" font-size="100" fill="#000" stroke="#000" stroke-width="0.8">1600 rpm</text>
<text transform="translate(289.35,186.51) scale(0.35040,0.44253)" font-size="100" fill="#000" stroke="#000" stroke-width="0.8">1800 rpm</text>
<text transform="translate(288.09,240.25) scale(0.35368,0.45465)" font-size="100" fill="#000" stroke="#000" stroke-width="0.8">2000 rpm</text>
<text transform="translate(852.32,62.67) scale(0.47018,0.59667)" font-size="100" font-weight="bold" fill="#000" stroke="#000" stroke-width="1.0">(b)</text>
<text transform="translate(941.61,699.52) scale(0.34973,0.48182)" font-size="100" fill="#ff0000" stroke="#ff0000" stroke-width="0.8">5</text>
<text transform="translate(924.13,592.46) scale(0.34973,0.46765)" font-size="100" fill="#ff0000" stroke="#ff0000" stroke-width="0.8">10</text>
<text transform="translate(924.13,486.33) scale(0.34973,0.47463)" font-size="100" fill="#ff0000" stroke="#ff0000" stroke-width="0.8">15</text>
<text transform="translate(924.13,379.25) scale(0.34973,0.47463)" font-size="100" fill="#ff0000" stroke="#ff0000" stroke-width="0.8">20</text>
<text transform="translate(924.13,273.12) scale(0.34973,0.48182)" font-size="100" fill="#ff0000" stroke="#ff0000" stroke-width="0.8">25</text>
<text transform="translate(924.13,166.05) scale(0.34973,0.47463)" font-size="100" fill="#ff0000" stroke="#ff0000" stroke-width="0.8">30</text>
<text transform="translate(924.13,59.92) scale(0.34973,0.48182)" font-size="100" fill="#ff0000" stroke="#ff0000" stroke-width="0.8">35</text>
<text transform="translate(1640.90,636.06) scale(0.34973,0.46866)" font-size="100" fill="#0000ff" stroke="#0000ff" stroke-width="0.8">200</text>
<text transform="translate(1641.60,516.46) scale(0.34973,0.46866)" font-size="100" fill="#0000ff" stroke="#0000ff" stroke-width="0.8">400</text>
<text transform="translate(1640.90,396.86) scale(0.34973,0.46866)" font-size="100" fill="#0000ff" stroke="#0000ff" stroke-width="0.8">600</text>
<text transform="translate(1640.90,277.26) scale(0.34973,0.46866)" font-size="100" fill="#0000ff" stroke="#0000ff" stroke-width="0.8">800</text>
<text transform="translate(1639.15,157.68) scale(0.34973,0.46176)" font-size="100" fill="#0000ff" stroke="#0000ff" stroke-width="0.8">1000</text>
<text transform="translate(1639.15,38.08) scale(0.34973,0.46176)" font-size="100" fill="#0000ff" stroke="#0000ff" stroke-width="0.8">1200</text>
<text transform="translate(979.75,732.60) scale(0.34973,0.44853)" font-size="100" fill="#000" stroke="#000" stroke-width="0.8">1400</text>
<text transform="translate(1169.09,732.60) scale(0.34973,0.44853)" font-size="100" fill="#000" stroke="#000" stroke-width="0.8">1600</text>
<text transform="translate(1358.43,732.60) scale(0.34973,0.44853)" font-size="100" fill="#000" stroke="#000" stroke-width="0.8">1800</text>
<text transform="translate(1548.65,732.59) scale(0.34973,0.45522)" font-size="100" fill="#000" stroke="#000" stroke-width="0.8">2000</text>
<text transform="translate(1101.56,786.74) scale(0.34797,0.44111)" font-size="100" fill="#000" stroke="#000" stroke-width="0.8">Rotational velocity (rpm)</text>
<text transform="translate(907.64,608.77) rotate(-90) scale(0.43293,0.37444)" font-size="100" fill="#ff0000" stroke="#ff0000" stroke-width="0.8">Tensile shear strength (MPa)</text>
<text transform="translate(1739.53,533.60) rotate(-90) scale(0.43281,0.35556)" font-size="100" fill="#0000ff" stroke="#0000ff" stroke-width="0.8">Fracture energy (mJ)</text>
<text transform="translate(1119.50,517.12) scale(0.35121,0.44667)" font-size="100" fill="#ff0000" stroke="#ff0000" stroke-width="0.8">Tensile shear strength</text>
<text transform="translate(1119.26,571.85) scale(0.34784,0.45465)" font-size="100" fill="#0000ff" stroke="#0000ff" stroke-width="0.8">Fracture energy</text>
<text transform="translate(997.60,80.92) scale(0.34945,0.43971)" font-size="100" font-weight="bold" fill="#000" stroke="#000" stroke-width="3.0">31</text>
<text transform="translate(1033.73,60.14) scale(0.21329,0.25970)" font-size="100" font-weight="bold" fill="#000" stroke="#000" stroke-width="3.0">+1.5</text>
<text transform="translate(1033.95,96.43) scale(0.21126,0.26716)" font-size="100" font-weight="bold" fill="#000" stroke="#000" stroke-width="3.0">-1.5</text>
<text transform="translate(1222.96,91.92) scale(0.35914,0.43881)" font-size="100" font-weight="bold" fill="#000" stroke="#000" stroke-width="3.0">33</text>
<text transform="translate(1259.24,71.32) scale(0.21207,0.28955)" font-size="100" font-weight="bold" fill="#000" stroke="#000" stroke-width="3.0">+0.6</text>
<text transform="translate(1258.95,107.72) scale(0.21126,0.28955)" font-size="100" font-weight="bold" fill="#000" stroke="#000" stroke-width="3.0">-0.6</text>
<text transform="translate(1389.60,230.84) scale(0.34894,0.46061)" font-size="100" font-weight="bold" fill="#000" stroke="#000" stroke-width="3.0">24</text>
<text transform="translate(1425.24,209.86) scale(0.21207,0.27059)" font-size="100" font-weight="bold" fill="#000" stroke="#000" stroke-width="3.0">+1.6</text>
<text transform="translate(1425.47,247.13) scale(0.20795,0.28529)" font-size="100" font-weight="bold" fill="#000" stroke="#000" stroke-width="3.0">-1.6</text>
<text transform="translate(1522.17,354.80) scale(0.35333,0.46818)" font-size="100" font-weight="bold" fill="#000" stroke="#000" stroke-width="3.0">17</text>
<text transform="translate(1557.79,332.63) scale(0.20291,0.26716)" font-size="100" font-weight="bold" fill="#000" stroke="#000" stroke-width="3.0">+2.1</text>
<text transform="translate(1557.98,368.93) scale(0.20403,0.26716)" font-size="100" font-weight="bold" fill="#000" stroke="#000" stroke-width="3.0">-2.1</text>
<text transform="translate(984.94,295.88) scale(0.35175,0.46119)" font-size="100" font-weight="bold" fill="#000" stroke="#000" stroke-width="3.0">859</text>
<text transform="translate(1038.26,274.35) scale(0.20738,0.27463)" font-size="100" font-weight="bold" fill="#000" stroke="#000" stroke-width="3.0">+23</text>
<text transform="translate(1038.48,311.27) scale(0.20556,0.26716)" font-size="100" font-weight="bold" fill="#000" stroke="#000" stroke-width="3.0">-23</text>
<text transform="translate(1154.22,237.68) scale(0.35972,0.46119)" font-size="100" font-weight="bold" fill="#000" stroke="#000" stroke-width="3.0">978</text>
<text transform="translate(1207.95,216.34) scale(0.21081,0.26418)" font-size="100" font-weight="bold" fill="#000" stroke="#000" stroke-width="3.0">+15</text>
<text transform="translate(1208.17,252.74) scale(0.20714,0.25672)" font-size="100" font-weight="bold" fill="#000" stroke="#000" stroke-width="3.0">-15</text>
<text transform="translate(1327.93,430.78) scale(0.35664,0.45970)" font-size="100" font-weight="bold" fill="#000" stroke="#000" stroke-width="3.0">659</text>
<text transform="translate(1381.57,409.36) scale(0.20608,0.26866)" font-size="100" font-weight="bold" fill="#000" stroke="#000" stroke-width="3.0">+35</text>
<text transform="translate(1381.81,445.76) scale(0.19762,0.26866)" font-size="100" font-weight="bold" fill="#000" stroke="#000" stroke-width="3.0">-35</text>
<text transform="translate(1485.55,618.99) scale(0.36224,0.45522)" font-size="100" font-weight="bold" fill="#000" stroke="#000" stroke-width="3.0">298</text>
<text transform="translate(1539.29,598.63) scale(0.20267,0.27121)" font-size="100" font-weight="bold" fill="#000" stroke="#000" stroke-width="3.0">+54</text>
<text transform="translate(1539.50,634.54) scale(0.20000,0.25606)" font-size="100" font-weight="bold" fill="#000" stroke="#000" stroke-width="3.0">-54</text>
</svg>
</body></html>
